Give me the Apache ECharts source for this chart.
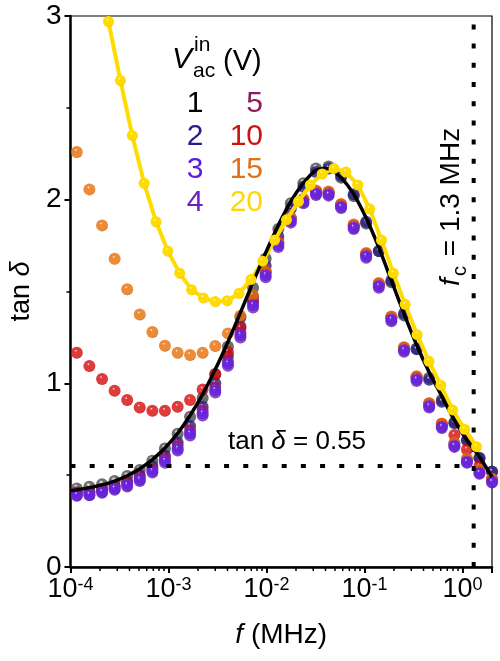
<!DOCTYPE html>
<html><head><meta charset="utf-8">
<script src="https://cdn.jsdelivr.net/npm/echarts@6/dist/echarts.min.js"></script>
<style>html,body{margin:0;padding:0;background:#fff}#c{width:500px;height:661px}</style>
</head><body><div id="c"></div>
<script>
// ---------- data ----------
const freq = [1.16e-4,1.56e-4,2.10e-4,2.82e-4,3.79e-4,5.09e-4,6.85e-4,9.20e-4,1.24e-3,1.66e-3,2.23e-3,3.00e-3,4.04e-3,5.42e-3,7.29e-3,9.80e-3,1.32e-2,1.77e-2,2.38e-2,3.20e-2,4.30e-2,5.77e-2,7.76e-2,0.104,0.140,0.188,0.253,0.340,0.457,0.615,0.826,1.11,1.49,2.0];
const v1  = [0.428,0.437,0.45,0.468,0.495,0.528,0.579,0.645,0.726,0.818,0.92,1.05,1.20,1.36,1.52,1.68,1.84,1.98,2.09,2.17,2.18,2.12,2.02,1.87,1.72,1.55,1.37,1.19,1.03,0.91,0.79,0.69,0.595,0.52];
const v2  = [0.405,0.41,0.425,0.443,0.465,0.50,0.548,0.607,0.678,0.768,0.872,1.0,1.15,1.31,1.47,1.64,1.80,1.95,2.07,2.15,2.17,2.13,2.03,1.88,1.72,1.56,1.38,1.185,1.02,0.90,0.782,0.691,0.592,0.519];
const v3  = [0.392,0.394,0.41,0.428,0.446,0.477,0.524,0.579,0.645,0.728,0.837,0.963,1.109,1.263,1.426,1.59,1.753,1.885,1.989,2.034,2.029,1.961,1.849,1.693,1.53,1.348,1.181,1.022,0.876,0.764,0.66,0.573,0.513,0.464];
const v4  = [0.388,0.39,0.404,0.42,0.438,0.468,0.514,0.568,0.634,0.716,0.825,0.95,1.096,1.25,1.413,1.578,1.742,1.875,1.98,2.026,2.022,1.954,1.84,1.684,1.52,1.338,1.172,1.013,0.868,0.757,0.654,0.568,0.508,0.46];
const v5  = [0.405,0.405,0.42,0.438,0.457,0.488,0.536,0.592,0.66,0.744,0.852,0.978,1.122,1.276,1.44,1.604,1.766,1.898,2.002,2.046,2.04,1.972,1.86,1.704,1.541,1.36,1.193,1.034,0.888,0.776,0.672,0.585,0.525,0.476];
const v10 = [1.167,1.094,1.023,0.96,0.909,0.869,0.851,0.851,0.873,0.909,0.967,1.051,1.17,1.30,1.45,1.61,1.77,1.90,2.0,2.046,2.041,1.973,1.861,1.705,1.542,1.361,1.194,1.035,0.89,0.78,0.719,0.64,0.55,0.48];
const v15 = [2.26,2.056,1.86,1.678,1.512,1.375,1.28,1.205,1.167,1.154,1.167,1.203,1.272,1.368,1.48,1.607,1.765,1.9,2.004,2.05,2.045,1.977,1.865,1.709,1.546,1.364,1.197,1.038,0.892,0.78,0.676,0.589,0.529,0.48];
const freq20 = [2.44e-4,3.23e-4,4.27e-4,5.64e-4,7.46e-4,9.85e-4,1.30e-3,1.72e-3,2.27e-3,3.00e-3,3.97e-3,5.25e-3,6.94e-3,9.17e-3,1.21e-2,1.60e-2,2.12e-2,2.80e-2,3.70e-2,4.89e-2,6.46e-2,8.53e-2,0.113,0.149,0.197,0.260,0.344,0.455,0.601,0.794,1.05,1.39];
const v20 = [2.97,2.65,2.35,2.09,1.88,1.72,1.60,1.51,1.465,1.445,1.45,1.49,1.565,1.665,1.78,1.89,1.99,2.08,2.14,2.17,2.15,2.08,1.95,1.78,1.60,1.43,1.265,1.12,0.99,0.855,0.75,0.655];
const fitFreq = [1.0e-4,1.16e-4,1.56e-4,2.10e-4,2.82e-4,3.79e-4,5.09e-4,6.85e-4,9.20e-4,1.24e-3,1.66e-3,2.23e-3,3.00e-3,4.04e-3,5.42e-3,7.29e-3,9.80e-3,1.32e-2,1.77e-2,2.38e-2,3.20e-2,4.30e-2,5.77e-2,7.76e-2,0.104,0.140,0.188,0.253,0.340,0.457,0.615,0.826,1.11,1.49,2.0];
const fitVal  = [0.415,0.42,0.432,0.447,0.468,0.497,0.535,0.585,0.648,0.728,0.825,0.94,1.075,1.225,1.385,1.55,1.71,1.86,1.99,2.09,2.16,2.17,2.12,2.03,1.90,1.74,1.56,1.38,1.21,1.06,0.93,0.80,0.69,0.60,0.49];
const tanRef = 0.55;
const fcRef = 1.3;
const yTickLabels = ['0','1','2','3'];
const legendLeft = ['1','2','3','4'];
const legendRight = ['5','10','15','20'];

// ---------- styling ----------
const FONT = '"Liberation Sans", Arial, Helvetica, sans-serif';
function sphere(base, dark, hl) {
  return {type:'radial', x:0.42, y:0.34, r:0.7, colorStops:[
    {offset:0, color:'#ffffff'}, {offset:hl || 0.16, color:base}, {offset:0.8, color:base}, {offset:1, color:dark}]};
}
const pair = (fs, vs) => fs.map((f, i) => [f, vs[i]]);
function scat(name, vals, base, dark, hl) {
  return {name, type:'scatter', data:pair(freq, vals), symbol:'circle', symbolSize:12,
    itemStyle:{color:sphere(base, dark, hl)}, silent:true, clip:false};
}
const leftColors = ['#000000','#2b1a8a','#5a1ee0','#6e1fc0'];
const rightColors = ['#8c1a5e','#cc1111','#e0701a','#ffd800'];

const minorTicks = [];
for (let d = -4; d <= 0; d++) for (let m = 2; m <= 9; m++) { const f = m * Math.pow(10, d); if (f <= 2.0001) minorTicks.push([f, 0]); }

const chart = echarts.init(document.getElementById('c'), null, {renderer:'canvas'});
const T = (x, y, text, font, fill, align) => ({type:'text', x, y, style:{text, font:font + ' ' + FONT, fill, align:align || 'left', verticalAlign:'middle', textAlign:align || 'left', textVerticalAlign:'middle'}});
const graphics = [];
graphics.push(T(172, 60, 'V', 'italic 30px', '#000'));
graphics.push(T(194, 45, 'in', '21px', '#000'));
graphics.push(T(193, 71, 'ac', '21px', '#000'));
graphics.push(T(223, 62, '(V)', '29px', '#000'));
legendLeft.forEach((t, i) => graphics.push(T(195, 104 + 33 * i, t, '30px', leftColors[i], 'center')));
legendRight.forEach((t, i) => graphics.push(T(263, 104 + 33 * i, t, '30px', rightColors[i], 'right')));
graphics.push({type:'text', x:228, y:442, style:{text:'tan {i|δ} = 0.55', font:'26px ' + FONT, fill:'#000', align:'left', verticalAlign:'middle', textAlign:'left', textVerticalAlign:'middle',
  rich:{i:{fontStyle:'italic', fontSize:26, fontFamily:FONT, fill:'#000', color:'#000'}}}});
graphics.push({type:'group', x:451, y:204, rotation:Math.PI/2, children:[
  T(-82, 0, 'f', 'italic 28px', '#000'),
  T(-72, 9, 'c', '20px', '#000'),
  T(-60, 0, ' = 1.3 MHz', '28px', '#000')
]});

const option = {
  animation:false,
  backgroundColor:'#fff',
  grid:{left:61, right:8, top:16, bottom:94, show:true, borderColor:'#000', borderWidth:1.2, backgroundColor:'transparent'},
  xAxis:{type:'log', logBase:10, min:1e-4, max:2,
    axisLine:{show:true, lineStyle:{color:'#000', width:2.5}},
    axisTick:{show:true, length:6, lineStyle:{color:'#000', width:2}},
    splitLine:{show:false},
    axisLabel:{margin:9, color:'#000',
      formatter:function(v){ const l = Math.log10(v); const e = Math.round(l); if (Math.abs(l - e) > 1e-6) return ''; return '{b|10}{s|' + e + '}'; },
      rich:{b:{fontSize:27, fontFamily:FONT, color:'#000'}, s:{fontSize:18, fontFamily:FONT, color:'#000', verticalAlign:'top'}}},
    name:'{i|f} (MHz)', nameLocation:'middle', nameGap:54,
    nameTextStyle:{fontSize:28, fontFamily:FONT, color:'#000', rich:{i:{fontStyle:'italic', fontSize:28, fontFamily:FONT, color:'#000'}}}
  },
  yAxis:{type:'value', min:0, max:3, interval:1,
    axisLine:{show:true, lineStyle:{color:'#000', width:2.5}},
    axisTick:{show:true, length:6, lineStyle:{color:'#000', width:2}},
    minorTick:{show:true, splitNumber:2, length:4, lineStyle:{color:'#000', width:1.5}},
    splitLine:{show:false}, minorSplitLine:{show:false},
    axisLabel:{margin:9, fontSize:28, fontFamily:FONT, color:'#000', formatter:function(v){ return yTickLabels[Math.round(v)]; }},
    name:'tan {i|δ}', nameLocation:'middle', nameGap:30, nameRotate:90,
    nameTextStyle:{fontSize:27, fontFamily:FONT, color:'#000', rich:{i:{fontStyle:'italic', fontSize:27, fontFamily:FONT, color:'#000'}}}
  },
  graphic:graphics,
  series:[
    scat('1', v1, '#4a4a4a', '#000000', 0.3),
    scat('2', v2, '#2c1a86', '#140a50'),
    scat('10', v10, '#d60a0a', '#880000'),
    scat('5', v5, '#a8154f', '#600a30'),
    scat('15', v15, '#e86e06', '#a84200'),
    scat('4', v4, '#7420c8', '#440c84'),
    scat('3', v3, '#6422e2', '#380c9c'),
    {name:'20', type:'line', data:pair(freq20, v20), symbol:'circle', symbolSize:11, showSymbol:true, showAllSymbol:true,
      lineStyle:{color:'#ffdc00', width:4}, itemStyle:{color:sphere('#ffdc00', '#e6b400')}, silent:true},
    {name:'fit', type:'line', data:pair(fitFreq, fitVal), symbol:'none', smooth:0.2, lineStyle:{color:'#000', width:3.5}, silent:true},
    {name:'tanref', type:'line', data:[[1e-4, tanRef], [fcRef, tanRef]], symbol:'none', lineStyle:{color:'#000', width:4, type:[5, 14.2]}, silent:true},
    {name:'fcref', type:'line', data:[[fcRef, 0], [fcRef, 3]], symbol:'none', lineStyle:{color:'#000', width:4, type:[5, 14.2]}, silent:true},
    {name:'minor', type:'custom', data:minorTicks, clip:false, silent:true, z:5,
      renderItem:function(params, api){ const p = api.coord([api.value(0), 0]); return {type:'line', shape:{x1:p[0], y1:p[1], x2:p[0], y2:p[1] + 4}, style:{stroke:'#000', lineWidth:1.5}}; }}
  ]
};
chart.setOption(option);
</script></body></html>
